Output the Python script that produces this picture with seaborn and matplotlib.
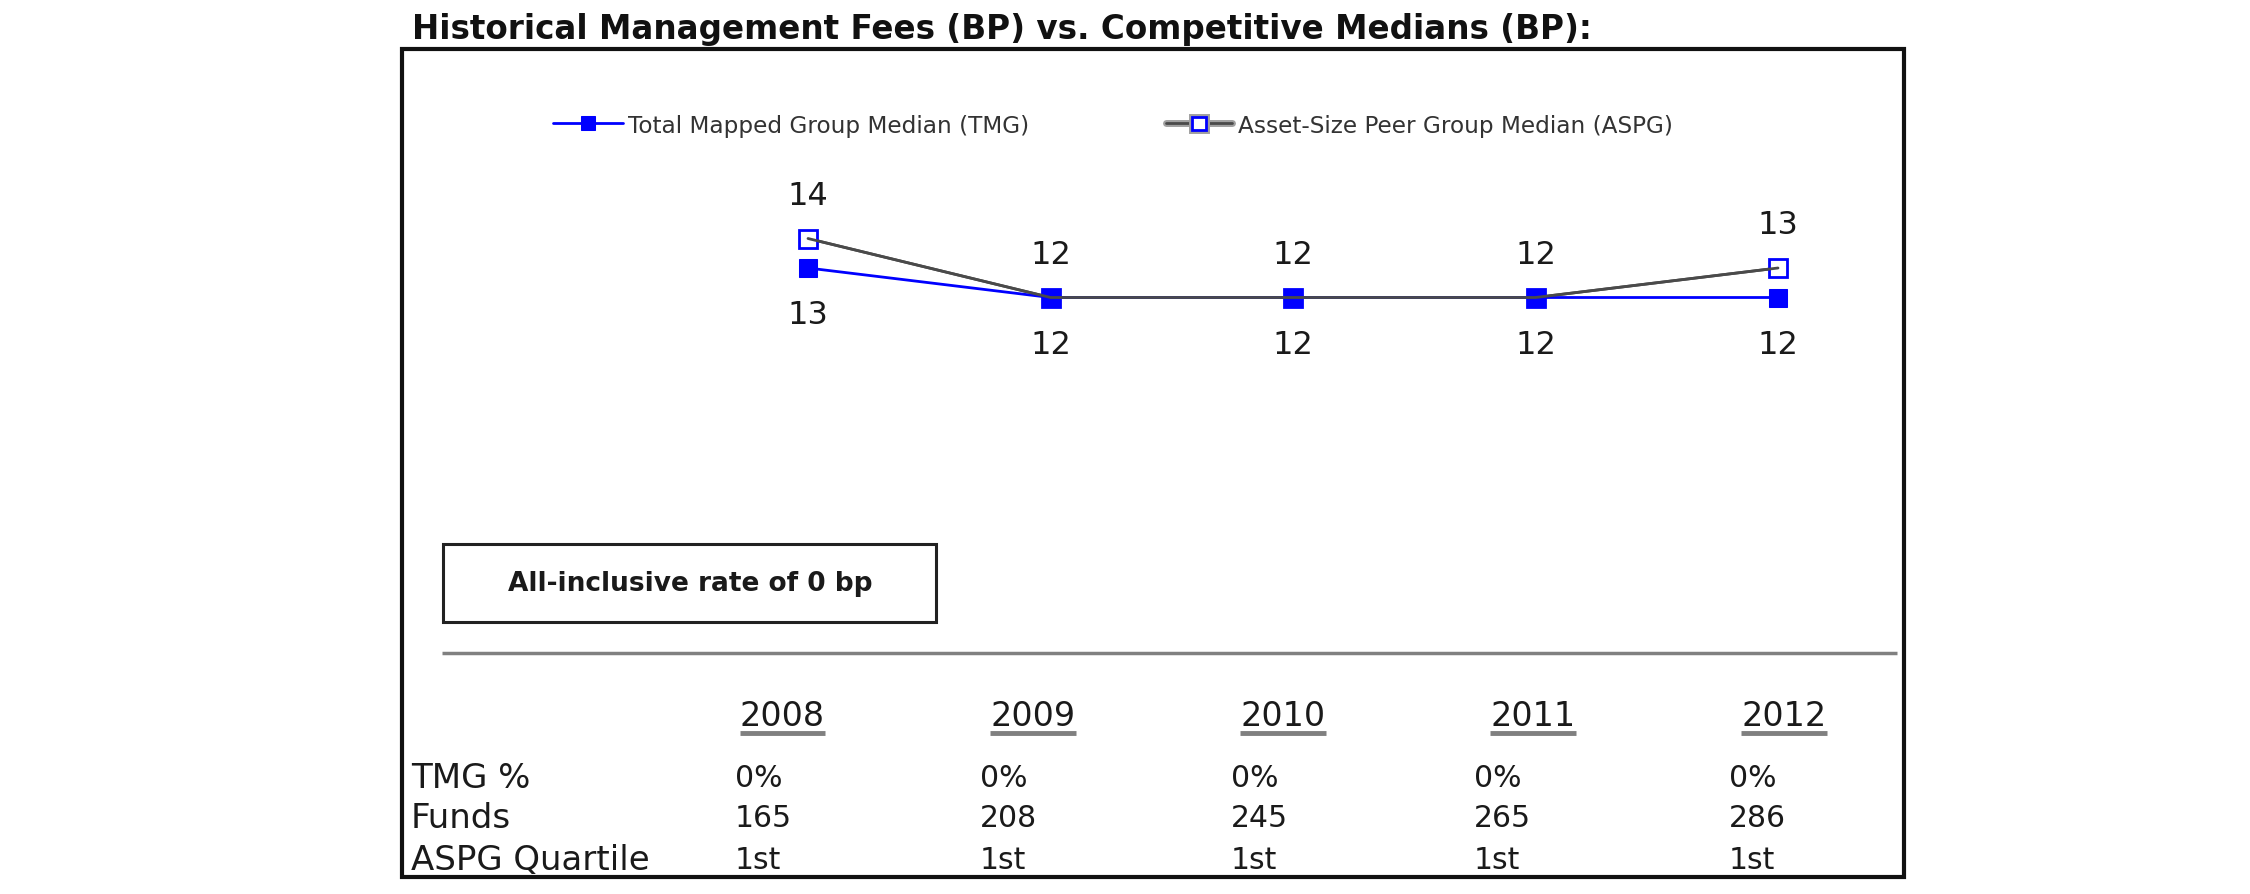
import numpy as np
import pandas as pd
import matplotlib
matplotlib.use('Agg')
import matplotlib.pyplot as plt
import matplotlib.patheffects as pe
from matplotlib.patches import Rectangle
import seaborn as sns

# ---- data ----
years = ['2008', '2009', '2010', '2011', '2012']
tmg_median = [13, 12, 12, 12, 12]
aspg_median = [14, 12, 12, 12, 13]
tmg_pct = ['0%', '0%', '0%', '0%', '0%']
funds = [165, 208, 245, 265, 286]
aspg_quartile = ['1st', '1st', '1st', '1st', '1st']
row_labels = ['TMG %', 'Funds', 'ASPG Quartile']
series_names = ['Total Mapped Group Median (TMG)', 'Asset-Size Peer Group Median (ASPG)']
title = 'Historical Management Fees (BP) vs. Competitive Medians (BP):'
box_text = 'All-inclusive rate of 0 bp'

sns.set_theme(style='white')
plt.rcParams['font.family'] = ['DejaVu Sans']

W, H = 2250, 895
fig = plt.figure(figsize=(22.5, 8.95), dpi=100)
fig.patch.set_facecolor('white')

bg = fig.add_axes([0, 0, 1, 1])
bg.set_xlim(0, W)
bg.set_ylim(H, 0)
bg.axis('off')


def px(x0, y0, x1, y1):
    return [x0 / W, 1 - y1 / H, (x1 - x0) / W, (y1 - y0) / H]


ax = fig.add_axes(px(686.75, 180.5, 1899.25, 357.5))
ax.patch.set_alpha(0)
df = pd.DataFrame({'x': np.arange(len(years)), 'TMG': tmg_median, 'ASPG': aspg_median})

BLUE = '#0000ff'
GRAY = '#4a4a4a'
sns.lineplot(data=df, x='x', y='ASPG', ax=ax, color=GRAY, linewidth=2,
             marker='s', markersize=13.5, markerfacecolor='white',
             markeredgecolor=BLUE, markeredgewidth=2, zorder=2, legend=False)
sns.lineplot(data=df, x='x', y='TMG', ax=ax, color=BLUE, linewidth=2,
             marker='s', markersize=13.5, markerfacecolor=BLUE,
             markeredgecolor=BLUE, zorder=3, legend=False)
sns.lineplot(data=df, x='x', y='ASPG', ax=ax, color=GRAY, linewidth=2,
             zorder=4, legend=False)
ax.set_xlim(-0.5, 4.5)
ax.set_ylim(10, 16)
ax.axis('off')

h_aspg, h_tmg = ax.lines[0], ax.lines[1]

for i, v in enumerate(aspg_median):
    ax.annotate(str(v), (i, v), xytext=(0, 31), textcoords='offset points',
                ha='center', va='center', fontsize=23, color='#1a1a1a')
for i, v in enumerate(tmg_median):
    ax.annotate(str(v), (i, v), xytext=(0, -33.5), textcoords='offset points',
                ha='center', va='center', fontsize=23, color='#1a1a1a')

LEG_FS = 16.7
leg1 = ax.legend([h_tmg], [series_names[0]], loc='center left',
                 bbox_to_anchor=(553 / W, 1 - 126 / H), bbox_transform=fig.transFigure,
                 frameon=False, borderpad=0, borderaxespad=0, handlelength=3.0,
                 handletextpad=0.25, fontsize=LEG_FS, markerscale=0.7, labelcolor='#333333')
ax.add_artist(leg1)
leg2 = ax.legend([h_aspg], [series_names[1]], loc='center left',
                 bbox_to_anchor=(1166 / W, 1 - 126 / H), bbox_transform=fig.transFigure,
                 frameon=False, borderpad=0, borderaxespad=0, handlelength=2.85,
                 handletextpad=0.25, fontsize=LEG_FS, markerscale=0.7, labelcolor='#333333')
leg2.legend_handles[0].set_path_effects([pe.Stroke(linewidth=5, foreground='#a0a0a0'), pe.Normal()])

# ---- frame, title ----
bg.add_patch(Rectangle((402, 50), 1502, 828, fill=False, lw=3, edgecolor='#111111'))
bg.text(412, 29, title, fontsize=23.5, fontweight='bold', ha='left', va='center', color='#111111')

# ---- text box ----
bg.add_patch(Rectangle((443, 545), 493, 78, fill=False, lw=2.2, edgecolor='#222222'))
bg.text(690, 584, box_text, fontsize=19, fontweight='bold', ha='center', va='center', color='#1a1a1a')

# ---- separator ----
bg.plot([442, 1897], [654, 654], color='#808080', lw=2.5, solid_capstyle='butt')

# ---- table ----
year_x = [782, 1033, 1283, 1533, 1784]
val_x = [735, 980, 1231, 1474, 1729]
row_y = [779, 819, 861]
year_texts = []
for x, yr in zip(year_x, years):
    year_texts.append(bg.text(x, 716, yr, fontsize=24, ha='center', va='center', color='#1a1a1a'))
for y, lab in zip(row_y, row_labels):
    bg.text(411, y, lab, fontsize=24.5, ha='left', va='center', color='#1a1a1a')
rows = [tmg_pct, [str(f) for f in funds], aspg_quartile]
for y, vals in zip(row_y, rows):
    for x, v in zip(val_x, vals):
        bg.text(x, y, v, fontsize=21.5, ha='left', va='center', color='#1a1a1a')

fig.canvas.draw()
inv = bg.transData.inverted()
for t in year_texts:
    bb = t.get_window_extent()
    (x0, _), (x1, _) = inv.transform([[bb.x0, 0], [bb.x1, 0]])
    bg.plot([x0, x1], [734, 734], color='#808080', lw=3.5, solid_capstyle='butt')

fig.savefig('out.png', dpi=100, facecolor='white')
